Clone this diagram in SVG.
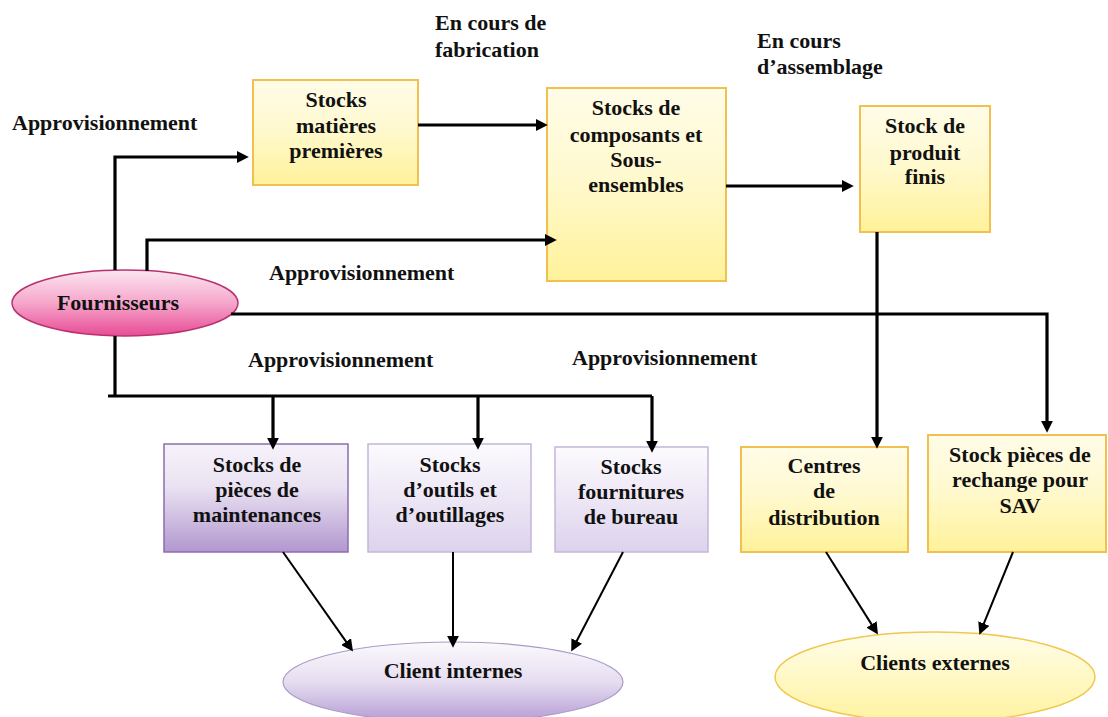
<svg xmlns="http://www.w3.org/2000/svg" width="1108" height="717" viewBox="0 0 1108 717" font-family="Liberation Serif, Times New Roman, serif" font-size="22" font-weight="bold">
<style>
text{fill:#111}
.c{text-anchor:middle}
.y{fill:url(#gy);stroke:#F2C050;stroke-width:2}
.pd{fill:url(#gpd);stroke:#8E6BB0;stroke-width:1.5}
.pl{fill:url(#gpl);stroke:#C3B6D8;stroke-width:1.5}
.k{fill:none;stroke:#000;stroke-width:3.2;marker-end:url(#ah)}
.kn{fill:none;stroke:#000;stroke-width:3.2}
.t{fill:none;stroke:#000;stroke-width:2;marker-end:url(#ah)}
</style>
<defs>
<linearGradient id="gy" x1="0" y1="0" x2="0" y2="1"><stop offset="0" stop-color="#FFFCE8"/><stop offset="0.45" stop-color="#FFF9D0"/><stop offset="1" stop-color="#FFF29A"/></linearGradient>
<linearGradient id="gpd" x1="0" y1="0" x2="0" y2="1"><stop offset="0" stop-color="#F6F2FA"/><stop offset="0.4" stop-color="#EAE2F2"/><stop offset="1" stop-color="#B197CF"/></linearGradient>
<linearGradient id="gpl" x1="0" y1="0" x2="0" y2="1"><stop offset="0" stop-color="#FCFBFE"/><stop offset="1" stop-color="#DDD2EC"/></linearGradient>
<linearGradient id="gci" x1="0" y1="0" x2="0" y2="1"><stop offset="0" stop-color="#FBF9FD"/><stop offset="0.5" stop-color="#E6DDF0"/><stop offset="1" stop-color="#B49CD4"/></linearGradient>
<linearGradient id="gce" x1="0" y1="0" x2="0" y2="1"><stop offset="0" stop-color="#FFFDEB"/><stop offset="1" stop-color="#FFF3A0"/></linearGradient>
<linearGradient id="gf" x1="0" y1="0" x2="0" y2="1"><stop offset="0" stop-color="#FCE6F1"/><stop offset="0.5" stop-color="#F5A6CB"/><stop offset="1" stop-color="#E84B95"/></linearGradient>
<marker id="ah" markerUnits="userSpaceOnUse" markerWidth="12" markerHeight="12" viewBox="0 0 10 10" refX="1" refY="5" orient="auto"><path d="M0,0 L10,5 L0,10 z" fill="#000"/></marker>
</defs>

<g id="labels">
<text x="12" y="130">Approvisionnement</text>
<text x="435" y="30">En cours de</text>
<text x="435" y="57">fabrication</text>
<text x="757" y="48">En cours</text>
<text x="757" y="74">d’assemblage</text>
<text x="269" y="280">Approvisionnement</text>
<text x="248" y="367">Approvisionnement</text>
<text x="572" y="365">Approvisionnement</text>
</g>

<g id="fournisseurs">
<ellipse cx="125" cy="303" rx="113" ry="33" fill="url(#gf)" stroke="#B8336E" stroke-width="1.5"/>
<text class="c" x="118" y="310">Fournisseurs</text>
</g>

<g id="matieres">
<rect class="y" x="253" y="80" width="165" height="105"/>
<text class="c" x="336" y="107">Stocks</text>
<text class="c" x="336" y="133">matières</text>
<text class="c" x="336" y="158">premières</text>
</g>

<g id="composants">
<rect class="y" x="547" y="88" width="179" height="193"/>
<text class="c" x="636" y="115">Stocks de</text>
<text class="c" x="636" y="142">composants et</text>
<text class="c" x="636" y="167">Sous-</text>
<text class="c" x="636" y="192">ensembles</text>
</g>

<g id="finis">
<rect class="y" x="860" y="106" width="130" height="126"/>
<text class="c" x="925" y="133">Stock de</text>
<text class="c" x="925" y="160">produit</text>
<text class="c" x="925" y="184">finis</text>
</g>

<g id="maintenance">
<rect class="pd" x="164" y="444" width="184" height="108"/>
<text class="c" x="257" y="472">Stocks de</text>
<text class="c" x="257" y="497">pièces de</text>
<text class="c" x="257" y="522">maintenances</text>
</g>

<g id="outils">
<rect class="pl" x="368" y="444" width="163" height="108"/>
<text class="c" x="450" y="472">Stocks</text>
<text class="c" x="450" y="497">d’outils et</text>
<text class="c" x="450" y="522">d’outillages</text>
</g>

<g id="fournitures">
<rect class="pl" x="555" y="447" width="153" height="105"/>
<text class="c" x="631" y="474">Stocks</text>
<text class="c" x="631" y="499">fournitures</text>
<text class="c" x="631" y="524">de bureau</text>
</g>

<g id="centres">
<rect class="y" x="741" y="447" width="167" height="105"/>
<text class="c" x="824" y="473">Centres</text>
<text class="c" x="824" y="498">de</text>
<text class="c" x="824" y="525">distribution</text>
</g>

<g id="rechange">
<rect class="y" x="928" y="435" width="178" height="117"/>
<text class="c" x="1020" y="462">Stock pièces de</text>
<text class="c" x="1020" y="487">rechange pour</text>
<text class="c" x="1020" y="513">SAV</text>
</g>

<g id="clients-internes">
<ellipse cx="453" cy="682" rx="170" ry="40" fill="url(#gci)" stroke="#A99BC7" stroke-width="1.2"/>
<text class="c" x="453" y="678">Client internes</text>
</g>

<g id="clients-externes">
<ellipse cx="935" cy="677" rx="160" ry="45" fill="url(#gce)" stroke="#F0C850" stroke-width="1.5"/>
<text class="c" x="935" y="670">Clients externes</text>
</g>

<g id="connectors">
<path class="k" d="M115,270 V157 H238"/>
<path class="k" d="M147,271 V240 H546"/>
<path class="k" d="M418,125 H537"/>
<path class="k" d="M726,186 H843"/>
<path class="k" d="M877,232 V438"/>
<path class="k" d="M231,314 H1047 V422"/>
<path class="kn" d="M115,336 V396 M108,396 H652"/>
<path class="k" d="M273,396 V439"/>
<path class="k" d="M478,396 V439"/>
<path class="k" d="M652,396 V442"/>
<path class="t" d="M283,552 L346.8,642.6"/>
<path class="t" d="M453,552 L453,637"/>
<path class="t" d="M623,552 L576.2,642"/>
<path class="t" d="M826,552 L872.2,625.4"/>
<path class="t" d="M1013,552 L983.4,624.7"/>
</g>
</svg>
